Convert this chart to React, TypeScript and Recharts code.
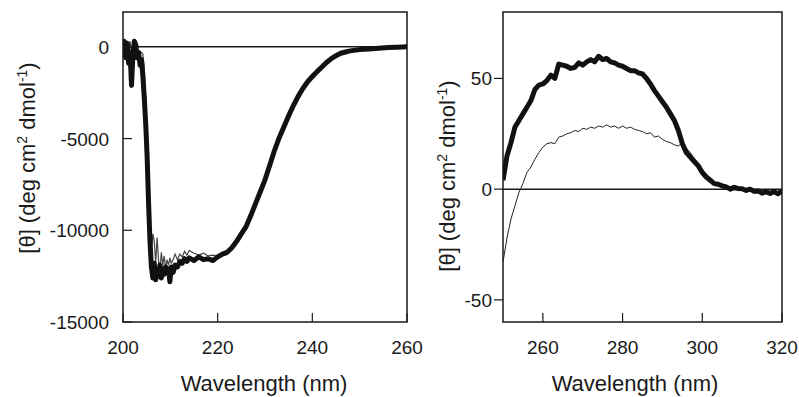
import { LineChart, Line, XAxis, YAxis, ReferenceLine, ReferenceArea } from 'recharts';

// ---- far-UV panel (200-260 nm) ----
const farWl = [
  200.0, 200.3, 200.6, 200.9, 201.2, 201.5, 201.8, 202.1, 202.4, 202.7, 203.0, 203.3, 203.6, 203.9,
  204.2, 204.5, 204.8, 205.1, 205.4, 205.7, 206.0, 206.3, 206.6, 206.9, 207.2, 207.5, 207.8, 208.1,
  208.4, 208.7, 209.0, 209.3, 209.6, 209.9, 210.2, 210.6, 211.0, 211.5, 212.0, 212.5, 213.0, 213.5,
  214.0, 215.0, 216.0, 217.0, 218.0, 219.0, 220.0, 221.0, 222.0, 223.0, 224.0, 225.0, 226.0, 227.0,
  228.0, 229.0, 230.0, 231.0, 232.0, 233.0, 234.0, 235.0, 236.0, 237.0, 238.0, 239.0, 240.0, 241.0,
  242.0, 243.0, 244.0, 245.0, 246.0, 247.0, 248.0, 250.0, 252.0, 254.0, 256.0, 258.0, 260.0,
];
const farThick = [
  -200, 300, -600, 200, -900, -300, -2100, -400, 300, 100, -600, -300, -1000, -700,
  -1600, -2800, -4200, -6000, -8500, -10600, -12000, -12600, -11800, -12700, -12200, -12500, -11900, -12600,
  -12100, -12400, -12000, -12300, -12100, -12800, -12000, -12300, -11900, -12000, -11700, -11800, -11550, -11700,
  -11500, -11650, -11450, -11600, -11550, -11650, -11450, -11300, -11200, -10950, -10600, -10200, -9800, -9200,
  -8550, -7900, -7250, -6450, -5650, -4950, -4350, -3750, -3200, -2700, -2270, -1900, -1620, -1350,
  -1100, -850, -640, -480, -350, -280, -220, -150, -120, -80, -40, -20, 0,
];
const farThin = [
  200, 0, -400, 100, -200, 300, -300, 100, 300, -200, -200, -300, -300, -300,
  -400, -1200, -2800, -5000, -7800, -10000, -11200, -10200, -10600, -11800, -10400, -11600, -12200, -11200,
  -11900, -11400, -12100, -11600, -11900, -11500, -11800, -11600, -11300, -11600, -11300, -11450, -11150, -11350,
  -11100, -11250, -11350, -11250, -11400, -11350, -11400, -11250, -11150, -10950, -10600, -10200, -9800, -9200,
  -8550, -7900, -7250, -6450, -5650, -4950, -4350, -3750, -3200, -2700, -2270, -1900, -1620, -1350,
  -1100, -850, -640, -480, -350, -280, -220, -150, -120, -80, -40, -20, 0,
];
const farXTicks = [200, 220, 240, 260];
const farYTicks = [-15000, -10000, -5000, 0];

// ---- near-UV panel (250-320 nm) ----
const nearWl = [
  250, 251, 252, 253, 254, 255, 256, 257, 258, 259, 260, 261, 262, 263, 264, 265, 266, 267, 268, 269,
  270, 271, 272, 273, 274, 275, 276, 277, 278, 279, 280, 281, 282, 283, 284, 285, 286, 287, 288, 289,
  290, 291, 292, 293, 294, 295, 296, 297, 298, 299, 300, 301, 302, 303, 304, 305, 306, 307, 308, 309,
  310, 311, 312, 313, 314, 315, 316, 317, 318, 319, 320,
];
const nearThick = [
  4, 15, 21, 28, 31, 34, 37, 40, 45, 47, 47.5, 49, 51.5, 50, 56.5, 56, 55.5, 54.5, 55, 57,
  56, 57.5, 58.5, 57.5, 60, 58.5, 59, 57.5, 57, 56, 55.5, 54.5, 53.5, 53.5, 52.5, 52, 50, 47.5, 44.5, 42,
  39.5, 37, 34, 31, 26.5, 20.5, 16.5, 14.5, 12.5, 10.5, 7.5, 5.5, 4, 2.5, 2.2, 1.5, 1, 0, 0.8, 0.3,
  0.2, -0.6, 0, -1, -0.8, -1.8, -1.2, -2, -1.1, -2.1, -0.8,
];
const nearThin = [
  -33, -22, -13.5, -7.5, -1.5, 2.5, 7.5, 10, 13.5, 16.5, 19, 20.5, 21, 20.5, 23.5, 24, 25, 25.5, 26.5, 26,
  27.5, 27, 28, 27.5, 28.5, 28, 29, 28, 28.5, 27.5, 28.5, 27.5, 28, 27, 26.5, 26, 25, 25.5, 23.5, 24,
  22.5, 21.5, 21, 20, 19.5, 21, 18.5, 16.5, 13.5, 11, 8, 6, 4, 2.5, 1.5, 0.5, 1, 0, 0.8, 0.3,
  0.2, -0.6, 0, -1, -0.8, -1.8, -1.2, -2, -1.1, -2.1, -0.8,
];
const nearXTicks = [260, 280, 300, 320];
const nearYTicks = [-50, 0, 50];

const FONT = '"Liberation Sans", Arial, Helvetica, sans-serif';
const INK = '#1a1a1a';

const zip = (xs: number[], ys: number[]) => xs.map((x, i) => ({ wl: x, v: ys[i] }));

const XTick = ({ x, y, payload }: any) => (
  <g>
    <line x1={x} x2={x} y1={y} y2={y - 9} stroke={INK} strokeWidth={1.2} />
    <text x={x} y={y + 32} textAnchor="middle" fontFamily={FONT} fontSize={19} fill={INK}>
      {payload.value}
    </text>
  </g>
);

const YTickIn = ({ x, y, payload }: any) => (
  <g>
    <line x1={x} x2={x + 9} y1={y} y2={y} stroke={INK} strokeWidth={1.2} />
    <text x={x - 14} y={y + 7} textAnchor="end" fontFamily={FONT} fontSize={19} fill={INK}>
      {payload.value}
    </text>
  </g>
);

const YTickOut = ({ x, y, payload }: any) => (
  <g>
    <line x1={x - 9} x2={x} y1={y} y2={y} stroke={INK} strokeWidth={1.2} />
    <text x={x - 11} y={y + 7} textAnchor="end" fontFamily={FONT} fontSize={19} fill={INK}>
      {payload.value}
    </text>
  </g>
);

const YTitle = ({ cx, cy }: { cx: number; cy: number }) => (
  <text
    transform={`translate(${cx},${cy}) rotate(-90)`}
    x={0}
    y={8}
    textAnchor="middle"
    fontFamily={FONT}
    fontSize={22}
    fill={INK}
  >
    [θ] (deg cm<tspan dy={-8} fontSize={14}>2</tspan>
    <tspan dy={8}> dmol</tspan>
    <tspan dy={-8} fontSize={14}>-1</tspan>
    <tspan dy={8}>)</tspan>
  </text>
);

export default function App() {
  const farA = zip(farWl, farThin);
  const farB = zip(farWl, farThick);
  const nearA = zip(nearWl, nearThin);
  const nearB = zip(nearWl, nearThick);

  return (
    <div style={{ position: 'absolute', left: 0, top: 0, width: 799, height: 397, background: '#fff' }}>
      <div style={{ position: 'absolute', left: 0, top: 0 }}>
        <LineChart width={440} height={397} margin={{ top: 12, right: 33, bottom: 0, left: 0 }}>
          <XAxis
            dataKey="wl" type="number" domain={[200, 260]} ticks={farXTicks} allowDataOverflow
            height={75} axisLine={false} tickLine={false} tickSize={0} tickMargin={0} tick={<XTick />}
          />
          <YAxis
            dataKey="v" type="number" domain={[-15000, 1900]} ticks={farYTicks} allowDataOverflow
            width={123} axisLine={false} tickLine={false} tickSize={0} tickMargin={0} tick={<YTickIn />}
          />
          <ReferenceArea x1={200} x2={260} y1={-15000} y2={1900} fill="none" stroke={INK} strokeWidth={1.5} />
          <ReferenceLine y={0} stroke={INK} strokeWidth={1.5} />
          <Line data={farA} dataKey="v" type="linear" dot={false} stroke="#444" strokeWidth={1.2} isAnimationActive={false} />
          <Line data={farB} dataKey="v" type="linear" dot={false} stroke="#111" strokeWidth={5} strokeLinejoin="round" isAnimationActive={false} />
        </LineChart>
      </div>
      <div style={{ position: 'absolute', left: 420, top: 0 }}>
        <LineChart width={379} height={397} margin={{ top: 12, right: 17, bottom: 0, left: 0 }}>
          <XAxis
            dataKey="wl" type="number" domain={[250, 320]} ticks={nearXTicks} allowDataOverflow
            height={75} axisLine={false} tickLine={false} tickSize={0} tickMargin={0} tick={<XTick />}
          />
          <YAxis
            dataKey="v" type="number" domain={[-60, 80]} ticks={nearYTicks} allowDataOverflow
            width={83} axisLine={false} tickLine={false} tickSize={0} tickMargin={0} tick={<YTickOut />}
          />
          <ReferenceArea x1={250} x2={320} y1={-60} y2={80} fill="none" stroke={INK} strokeWidth={1.5} />
          <ReferenceLine y={0} stroke={INK} strokeWidth={1.5} />
          <Line data={nearA} dataKey="v" type="linear" dot={false} stroke="#222" strokeWidth={1} isAnimationActive={false} />
          <Line data={nearB} dataKey="v" type="linear" dot={false} stroke="#111" strokeWidth={5} strokeLinejoin="round" isAnimationActive={false} />
        </LineChart>
      </div>
      <svg width={799} height={397} style={{ position: 'absolute', left: 0, top: 0, pointerEvents: 'none' }}>
        <YTitle cx={27} cy={158} />
        <YTitle cx={447} cy={176} />
        <text x={264} y={391} textAnchor="middle" fontFamily={FONT} fontSize={22} fill={INK}>Wavelength (nm)</text>
        <text x={635} y={391} textAnchor="middle" fontFamily={FONT} fontSize={22} fill={INK}>Wavelength (nm)</text>
      </svg>
    </div>
  );
}
